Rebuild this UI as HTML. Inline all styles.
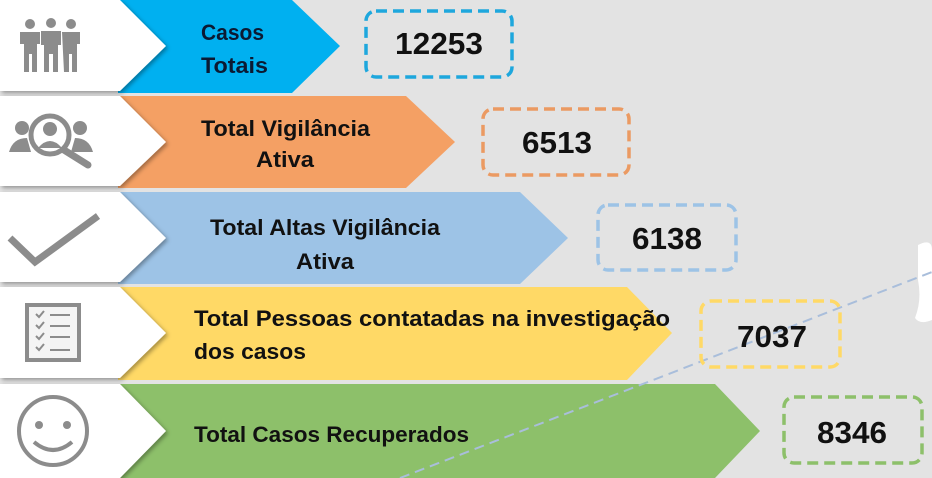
<!DOCTYPE html>
<html><head><meta charset="utf-8"><style>
html,body{margin:0;padding:0;background:#e3e3e3;}
svg{display:block}
text{font-family:"Liberation Sans",sans-serif;font-weight:bold;}
</style></head><body>
<svg width="932" height="478" viewBox="0 0 932 478" xmlns="http://www.w3.org/2000/svg">
<defs><filter id="sh" x="-10%" y="-10%" width="130%" height="130%"><feDropShadow dx="2" dy="2" stdDeviation="2" flood-color="#000" flood-opacity="0.35"/></filter></defs>
<rect width="932" height="478" fill="#e3e3e3"/>
<path d="M918,245 Q932,238 932,250 L932,320 Q920,325 915,318 Q922,300 918,280 Z" fill="#fff"/>

<!-- colored arrows -->
<polygon points="118,0 292,0 340,46 292,93 118,93" fill="#00b0f0"/>
<polygon points="118,96 406,96 455,142 406,188 118,188" fill="#f4a064"/>
<polygon points="118,192 520,192 568,238 520,284 118,284" fill="#9dc3e6"/>
<polygon points="118,287 627,287 672,333 627,380 118,380" fill="#ffd966"/>
<polygon points="118,384 715,384 760,431 715,478 118,478" fill="#8dc06a"/>
<line x1="400" y1="478" x2="932" y2="272" stroke="#a9bedb" stroke-width="2" stroke-dasharray="10,6"/>

<!-- white tabs -->
<g filter="url(#sh)" fill="#fff">
<polygon points="0,0 120,0 166,46 120,91 0,91"/>
<polygon points="0,96 120,96 166,142 120,186 0,186"/>
<polygon points="0,192 120,192 166,238 120,282 0,282"/>
<polygon points="0,287 120,287 166,333 120,378 0,378"/>
<polygon points="0,384 120,384 166,431 120,478 0,478"/>
</g>

<!-- icons -->
<g fill="#8c8c8c">
<circle cx="30" cy="24" r="5"/><circle cx="51" cy="23" r="5"/><circle cx="71" cy="24" r="5"/>
<path d="M20,32 h20 v12 h-3 v28 h-5 v-18 h-3 v18 h-5 v-28 h-4 z"/>
<path d="M41,31 h20 v14 h-3 v27 h-5 v-18 h-4 v18 h-5 v-27 h-3 z"/>
<path d="M62,32 h18 v12 h-3 v28 h-5 v-18 h-3 v18 h-5 z"/>
<circle cx="22" cy="128" r="7"/><circle cx="80" cy="128" r="7"/>
<path d="M9,152 q4,-14 18,-14 l4,14 z M93,152 q-4,-14 -18,-14 l-4,14 z"/>
</g>
<circle cx="50" cy="135" r="19" fill="none" stroke="#8c8c8c" stroke-width="5"/>
<circle cx="50" cy="129" r="7" fill="#8c8c8c"/>
<path d="M38,148 q12,-14 24,0 z" fill="#8c8c8c"/>
<line x1="64" y1="150" x2="88" y2="165" stroke="#8c8c8c" stroke-width="7" stroke-linecap="round"/>
<polyline points="10,238 35,262 98,216" fill="none" stroke="#8c8c8c" stroke-width="7"/>
<rect x="27" y="305" width="52" height="55" fill="#f4f4f4" stroke="#8c8c8c" stroke-width="4"/>
<g stroke="#8c8c8c" stroke-width="2" fill="none">
<polyline points="36,314 39,317 44,311"/><line x1="50" y1="315" x2="70" y2="315"/>
<polyline points="36,325 39,328 44,322"/><line x1="50" y1="326" x2="70" y2="326"/>
<polyline points="36,336 39,339 44,333"/><line x1="50" y1="337" x2="70" y2="337"/>
<polyline points="36,347 39,350 44,344"/><line x1="50" y1="350" x2="70" y2="350"/>
</g>
<circle cx="53" cy="431" r="34" fill="none" stroke="#8c8c8c" stroke-width="4"/>
<circle cx="39" cy="425" r="4" fill="#8c8c8c"/><circle cx="67" cy="425" r="4" fill="#8c8c8c"/>
<path d="M34,442 q19,16 38,0" fill="none" stroke="#8c8c8c" stroke-width="4"/>

<!-- labels -->
<g font-size="22">
<text x="201" y="40" fill="#0b1a33" textLength="63" lengthAdjust="spacingAndGlyphs">Casos</text>
<text x="201" y="73" fill="#0b1a33" textLength="67" lengthAdjust="spacingAndGlyphs">Totais</text>
<text x="201" y="136" fill="#111" textLength="169" lengthAdjust="spacingAndGlyphs">Total Vigilância</text>
<text x="256" y="167" fill="#111" textLength="58" lengthAdjust="spacingAndGlyphs">Ativa</text>
<text x="210" y="235" fill="#111" textLength="230" lengthAdjust="spacingAndGlyphs">Total Altas Vigilância</text>
<text x="296" y="269" fill="#111" textLength="58" lengthAdjust="spacingAndGlyphs">Ativa</text>
<text x="194" y="326" fill="#111" textLength="476" lengthAdjust="spacingAndGlyphs">Total Pessoas contatadas na investigação</text>
<text x="194" y="359" fill="#111" textLength="112" lengthAdjust="spacingAndGlyphs">dos casos</text>
<text x="194" y="442" fill="#111" textLength="275" lengthAdjust="spacingAndGlyphs">Total Casos Recuperados</text>
</g>

<!-- boxes -->
<g fill="none" stroke-width="3.5" stroke-dasharray="11,6">
<rect x="366" y="11" width="146" height="66" rx="10" stroke="#1ea7dd"/>
<rect x="483" y="109" width="146" height="66" rx="10" stroke="#eb9a62"/>
<rect x="598" y="205" width="138" height="65" rx="10" stroke="#9dc3e6"/>
<rect x="701" y="301" width="139" height="66" rx="10" stroke="#ffd966"/>
<rect x="784" y="397" width="138" height="66" rx="10" stroke="#8dc06a"/>
</g>
<g font-size="31" fill="#111" text-anchor="middle">
<text x="439" y="54" textLength="88" lengthAdjust="spacingAndGlyphs">12253</text>
<text x="557" y="153" textLength="70" lengthAdjust="spacingAndGlyphs">6513</text>
<text x="667" y="249" textLength="70" lengthAdjust="spacingAndGlyphs">6138</text>
<text x="772" y="347" textLength="70" lengthAdjust="spacingAndGlyphs">7037</text>
<text x="852" y="443" textLength="70" lengthAdjust="spacingAndGlyphs">8346</text>
</g>
</svg>
</body></html>
